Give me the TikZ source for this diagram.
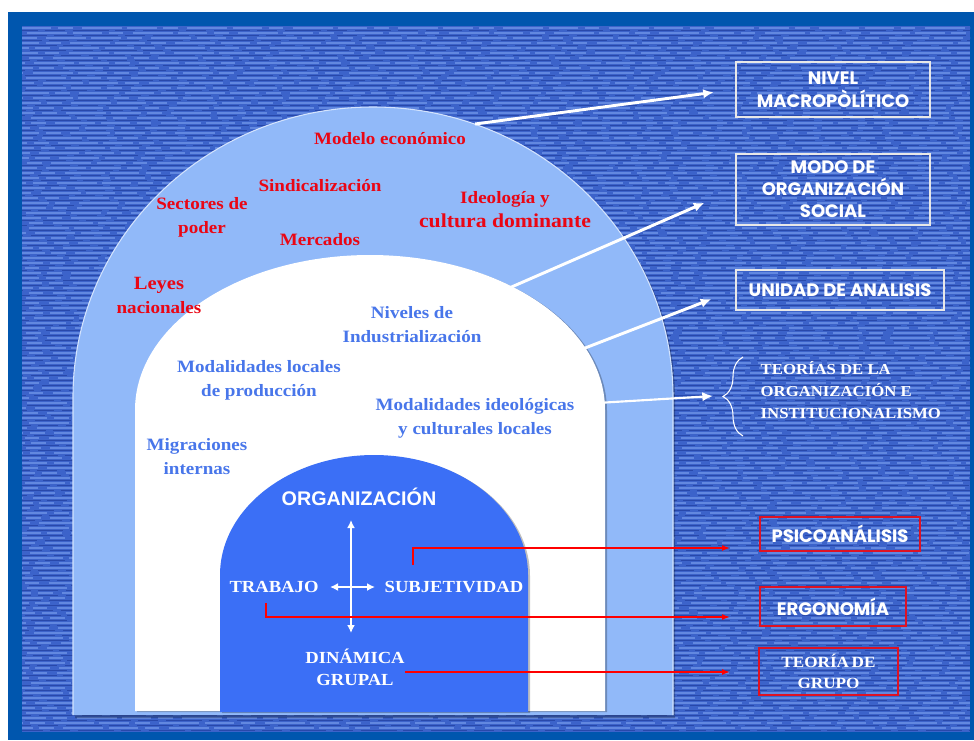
\documentclass[tikz,border=0pt]{standalone}
\usepackage{fontspec}
\setmainfont{Liberation Serif}[FakeStretch=1.1]
\setsansfont{Liberation Sans}
\newfontfamily\boxfont{Poppins}
\usetikzlibrary{arrows.meta,decorations.pathreplacing}

\definecolor{frameblue}{RGB}{0,86,174}
\definecolor{texblue}{RGB}{60,99,202}
\definecolor{texlight}{RGB}{98,136,224}
\definecolor{texdark}{RGB}{40,72,170}
\definecolor{archlight}{RGB}{145,185,249}
\definecolor{archroyal}{RGB}{59,111,246}
\definecolor{txtred}{RGB}{234,6,20}
\definecolor{txtblue}{RGB}{72,118,234}
\definecolor{boxred}{RGB}{222,18,36}

\tikzset{
  redtxt/.style={text=txtred, font=\fontsize{13}{18}\selectfont\bfseries, align=center},
  bluetxt/.style={text=txtblue, font=\fontsize{13}{18}\selectfont\bfseries, align=center},
  wtxt/.style={text=white, font=\fontsize{12.7}{16.5}\selectfont\bfseries, align=center},
  wbox/.style={draw=white!82!gray, line width=1.5pt, text=white,
    font=\boxfont\bfseries\fontsize{13.5}{17}\selectfont, align=center, inner sep=0pt},
  rbox/.style={draw=boxred, line width=1.6pt, text=white, align=center, inner sep=0pt},
  warrow/.style={draw=white, line width=2.2pt, -{Latex[length=8pt,width=7pt]}},
  rarrow/.style={draw=red, line width=1.1pt, -{Latex[length=6pt,width=4.5pt]}},
  innarrow/.style={draw=white, line width=1.5pt, {Latex[length=6pt,width=6pt]}-{Latex[length=6pt,width=6pt]}},
  bracestyle/.style={draw=white, line width=0.8pt, decorate, decoration={brace, amplitude=15pt}},
  archshadow/.style={fill=black, opacity=0.25}
}

\begin{document}
\begin{tikzpicture}[x=0.75pt, y=-0.75pt]
\useasboundingbox (0,0) rectangle (974,740);
% frame and textured background
\fill[white] (0,0) rectangle (974,740);
\fill[frameblue] (8,12) rectangle (974,740);
\pgfmathsetseed{42}
\begin{scope}
  \clip (22,26) rectangle (970,732);
  \fill[texblue] (22,26) rectangle (970,732);
  \foreach \r [evaluate=\r as \ph using {random(0,45)}, evaluate=\r as \pq using {random(0,45)}] in {28,33,...,730}{
    \draw[texlight, line width=0.9pt, dash pattern=on 22pt off 5pt on 11pt off 7pt on 30pt off 4pt, dash phase=\ph pt] (22,\r) -- (970,\r);
    \draw[texdark, line width=0.9pt, dash pattern=on 15pt off 6pt on 27pt off 5pt, dash phase=\pq pt] (22,\r+2.5) -- (970,\r+2.5);
  }
\end{scope}

% arches
\fill[archshadow] (75,718) -- (75,399) arc[start angle=180, end angle=360, x radius=300, y radius=290] -- (675,718) -- cycle;
\filldraw[fill=archlight, draw=white!60!archlight, line width=0.8pt] (73,715) -- (73,397) arc[start angle=180, end angle=360, x radius=300, y radius=290] -- (673,715);
\fill[archshadow] (137,712) -- (137,411) arc[start angle=180, end angle=360, x radius=235, y radius=155] -- (607,712) -- cycle;
\fill[white] (135,711) -- (135,410) arc[start angle=180, end angle=360, x radius=235, y radius=155] -- (605,711) -- cycle;
\fill[archshadow] (222,713) -- (222,576) arc[start angle=180, end angle=360, x radius=154, y radius=120] -- (530,713) -- cycle;
\fill[archroyal] (220,712) -- (220,575) arc[start angle=180, end angle=360, x radius=154, y radius=120] -- (528,712) -- cycle;

% outer ring
\node[redtxt] (modelo) at (390,139) {Modelo económico};
\node[redtxt] (sindi) at (320,186) {Sindicalización};
\node[redtxt] (sectores) at (202,217) {Sectores de\\poder};
\node[redtxt] (ideo) at (505,210) {Ideología y\\{\fontsize{14.8}{18}\selectfont cultura dominante}};
\node[redtxt] (mercados) at (320,240) {Mercados};
\node[redtxt] (leyes) at (159,295) {{\fontsize{14}{18}\selectfont Leyes}\\nacionales};

% middle ring
\node[bluetxt] (niveles) at (412,325) {Niveles de\\Industrialización};
\node[bluetxt] (modloc) at (259,380) {Modalidades locales\\de producción};
\node[bluetxt] (modideo) at (475,418) {Modalidades ideológicas\\y culturales locales};
\node[bluetxt] (migra) at (197,457) {Migraciones\\internas};

% inner arch
\node[text=white, font=\sffamily\bfseries\fontsize{14.8}{18}\selectfont] (org) at (359,497) {ORGANIZACIÓN};
\node[wtxt] (trabajo) at (274,587) {TRABAJO};
\node[wtxt] (subj) at (454,587) {SUBJETIVIDAD};
\node[wtxt] (dinamica) at (355,667) {DINÁMICA\\GRUPAL};
\coordinate (vtop) at (351,520);
\coordinate (vbot) at (351,633);
\coordinate (hleft) at (330,587);
\coordinate (hright) at (375,587);
\draw[innarrow] (vtop) -- (vbot);
\draw[innarrow] (hleft) -- (hright);

% right column
\node[wbox, minimum width=145.5pt, minimum height=41.25pt] (nivel) at (833,89.5) {NIVEL\\MACROPÒLÍTICO};
\node[wbox, minimum width=145.5pt, minimum height=53.25pt, font=\boxfont\bfseries\fontsize{13.5}{16.5}\selectfont] (modo) at (833,189.5) {MODO DE\\ORGANIZACIÓN\\SOCIAL};
\node[wbox, minimum width=156pt, minimum height=30pt] (unidad) at (840,290) {UNIDAD DE ANALISIS};
\node[anchor=west, align=left, text=white, font=\fontsize{11.4}{16.5}\selectfont\bfseries] (teorias) at (756,390) {TEORÍAS DE LA\\ORGANIZACIÓN E\\INSTITUCIONALISMO};
\draw[bracestyle] (743,436) -- (743,357);
\node[rbox, minimum width=120pt, minimum height=25.5pt, font=\boxfont\bfseries\fontsize{13.5}{15}\selectfont] (psico) at (840,534) {PSICOANÁLISIS};
\node[rbox, minimum width=109.5pt, minimum height=29.25pt, font=\boxfont\bfseries\fontsize{13.5}{15}\selectfont] (ergo) at (833,606.5) {ERGONOMÍA};
\node[rbox, minimum width=104.25pt, minimum height=35.25pt, font=\fontsize{11.7}{16}\selectfont\bfseries] (grupo) at (828.5,671.5) {TEORÍA\,DE\\GRUPO};

% white connectors
\coordinate (w1) at (475,124);
\coordinate (w2) at (500,292);
\coordinate (w3) at (567,355);
\coordinate (w4) at (597,403);
\coordinate (w4e) at (713,396);
\draw[warrow, shorten >=16pt] (w1) -- (nivel.west);
\draw[warrow, shorten >=25pt] (w2) -- (modo.west);
\draw[warrow, shorten >=19pt] (w3) -- (unidad.west);
\draw[warrow, line width=1.6pt] (w4) -- (w4e);

% red connectors
\coordinate (r1) at (413,565);
\coordinate (r1e) at (730,548);
\coordinate (r2) at (266,603);
\coordinate (r2e) at (730,617);
\coordinate (r3) at (405,672);
\coordinate (r3e) at (730,672);
\draw[rarrow] (r1) |- (r1e);
\draw[rarrow] (r2) |- (r2e);
\draw[rarrow] (r3) -- (r3e);
\end{tikzpicture}
\end{document}
